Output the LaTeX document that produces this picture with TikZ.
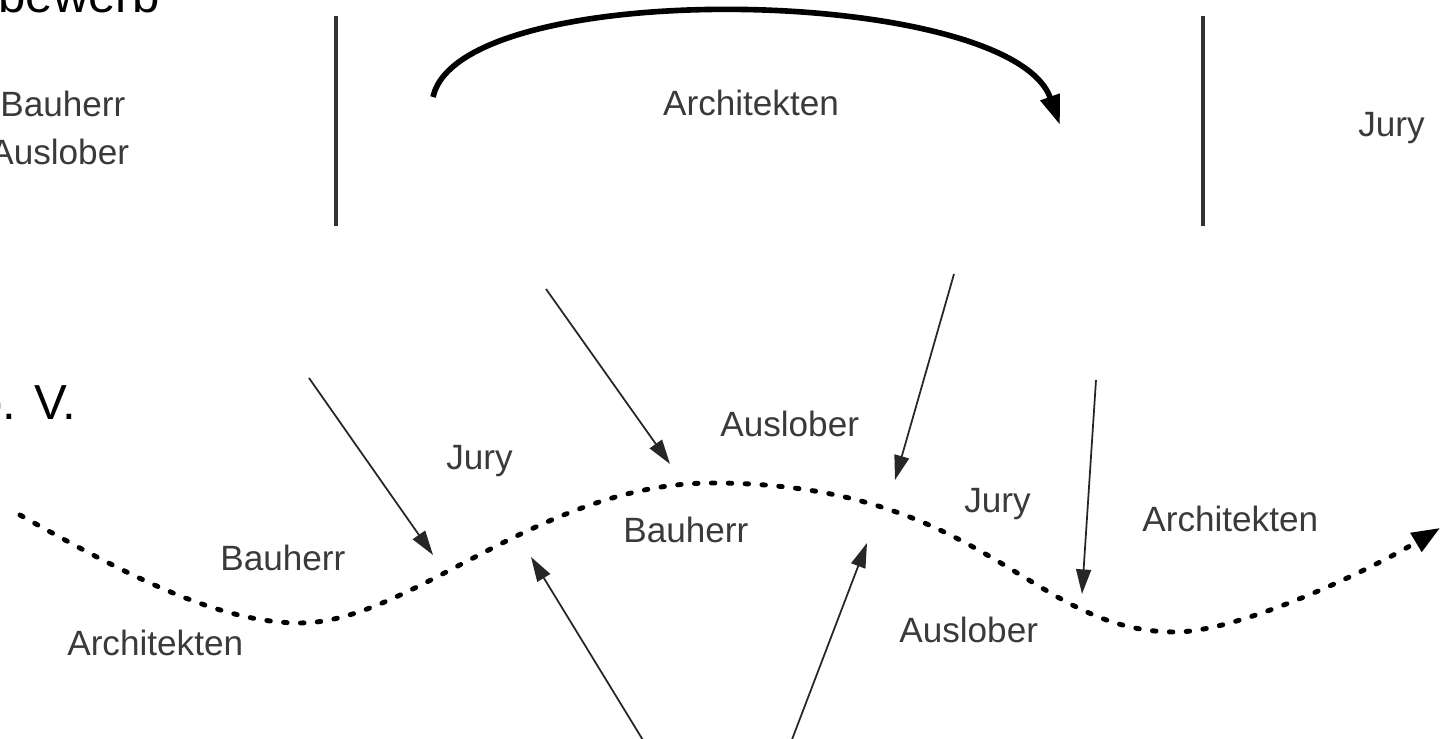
\documentclass[tikz,border=0pt]{standalone}
\usepackage{fontspec}
\setmainfont{Liberation Sans}
\usetikzlibrary{arrows.meta}
\definecolor{ink}{HTML}{3A3A3A}
\tikzset{
  head/.style={anchor=base west, inner sep=0pt, font=\fontsize{28}{32}\selectfont, text=black},
  lbl/.style={anchor=base west, inner sep=0pt, font=\fontsize{20}{24}\selectfont, text=ink},
  divider/.style={line width=2.2pt, draw=black!80},
  swing/.style={-{Triangle[length=17pt,width=11pt]}, line width=3.2pt, draw=black},
  pointer/.style={-{Triangle[length=14pt,width=8.5pt]}, line width=1pt, draw=black!85},
  track/.style={-{Triangle[length=16pt,width=12pt]}, line width=2.8pt, line cap=round, dash pattern=on 2pt off 7.6pt, draw=black}
}

\begin{document}
\begin{tikzpicture}[x=0.02cm, y=-0.02cm]
  \useasboundingbox (0,0) rectangle (1440,739);
  \clip (0,0) rectangle (1440,739);

  % upper row
  \node[head] (title) at (-2,13) {bewerb};
  \node[lbl] (bauA) at (0,117) {Bauherr};
  \node[lbl] (ausA) at (-10,165) {Auslober};
  \node[lbl, anchor=base] (archA) at (751,116) {Architekten};
  \node[lbl] (juryA) at (1358,137) {Jury};
  \draw[divider] (336,16) -- (336,226);
  \draw[divider] (1203,16) -- (1203,226);
  \coordinate (swingS) at (433,97);
  \coordinate (swingE) at (1060,125);
  \draw[swing] (swingS) .. controls (460,-25) and (1010,-15) .. (swingE);

  % lower row
  \node[head] (sub) at (-25,420) {b. V.};
  \node[lbl] (juryB) at (446,470) {Jury};
  \node[lbl] (ausB) at (720,437) {Auslober};
  \node[lbl] (bauB) at (623,542) {Bauherr};
  \node[lbl] (juryC) at (964,513) {Jury};
  \node[lbl] (archB) at (1142,532) {Architekten};
  \node[lbl] (ausC) at (899,642) {Auslober};
  \node[lbl] (bauC) at (220,570) {Bauherr};
  \node[lbl] (archC) at (67,655) {Architekten};

  % dotted course
  \coordinate (w0) at (20,515);
  \coordinate (w1) at (300,623);
  \coordinate (w2) at (712,483);
  \coordinate (w3) at (1175,632);
  \coordinate (w4) at (1440,528);
  \draw[track] (w0) .. controls (130,577) and (220,623) .. (w1)
    .. controls (410,623) and (540,483) .. (w2)
    .. controls (985,483) and (1030,632) .. (w3)
    .. controls (1240,632) and (1370,570) .. (w4);

  % arrows onto the course
  \coordinate (p1s) at (309,378);  \coordinate (p1t) at (433,555);
  \coordinate (p2s) at (546,289);  \coordinate (p2t) at (670,464);
  \coordinate (p3s) at (954,274);  \coordinate (p3t) at (895,480);
  \coordinate (p4s) at (1096,380); \coordinate (p4t) at (1082,594);
  \coordinate (p5s) at (649,750);  \coordinate (p5t) at (531,557);
  \coordinate (p6s) at (788,750);  \coordinate (p6t) at (867,543);
  \foreach \i in {1,...,6}
    \draw[pointer] (p\i s) -- (p\i t);
\end{tikzpicture}
\end{document}
